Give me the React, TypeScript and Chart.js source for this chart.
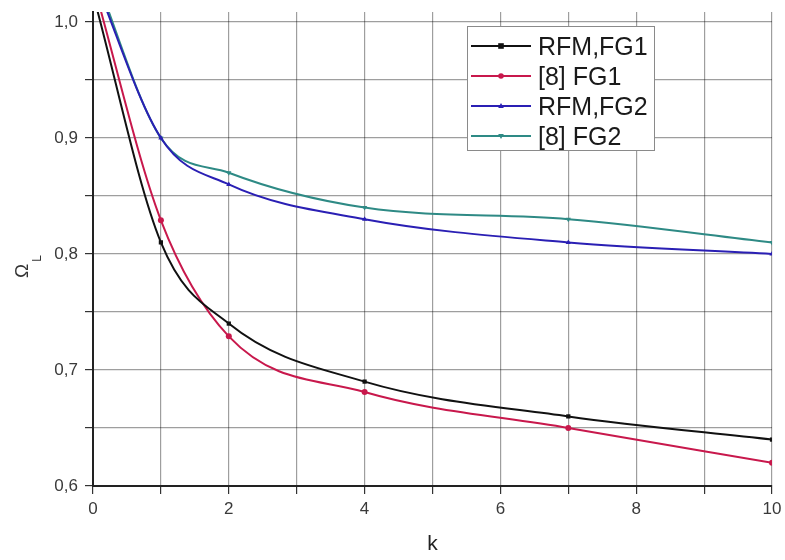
import React, { useEffect, useRef } from "react";
import { Chart, registerables } from "chart.js";

Chart.register(...registerables);

const kValues = [0, 1, 2, 4, 7, 10];
const rfmFG1 = [1.024, 0.81, 0.74, 0.69, 0.66, 0.64];
const ref8FG1 = [1.034, 0.829, 0.729, 0.681, 0.65, 0.62];
const rfmFG2 = [1.04, 0.9, 0.86, 0.83, 0.81, 0.8];
const ref8FG2 = [1.045, 0.9, 0.87, 0.84, 0.83, 0.81];

const yTickValues = [0.6, 0.65, 0.7, 0.75, 0.8, 0.85, 0.9, 0.95, 1.0];
const yLabelValues = [0.6, 0.7, 0.8, 0.9, 1.0];

const seriesNames = ["RFM,FG1", "[8] FG1", "RFM,FG2", "[8] FG2"];
const seriesColors = ["#111111", "#c8184c", "#2a1fb4", "#2e8a85"];
const seriesMarkers = ["rect", "circle", "triangle", "triangle"];
const seriesRotation = [0, 0, 0, 180];

const FONT = "'Liberation Sans', Arial, sans-serif";

function drawMarker(ctx: CanvasRenderingContext2D, style: string, rot: number, x: number, y: number, r: number) {
  ctx.beginPath();
  if (style === "rect") {
    ctx.rect(x - r, y - r, 2 * r, 2 * r);
  } else if (style === "circle") {
    ctx.arc(x, y, r, 0, Math.PI * 2);
  } else {
    const s = rot === 180 ? -1 : 1;
    ctx.moveTo(x, y - s * r * 1.1);
    ctx.lineTo(x + r, y + s * r * 0.7);
    ctx.lineTo(x - r, y + s * r * 0.7);
    ctx.closePath();
  }
  ctx.fill();
}

const extrasPlugin = {
  id: "extras",
  afterDraw(chart: any) {
    const ctx: CanvasRenderingContext2D = chart.ctx;
    ctx.save();
    const bx = 467, by = 26, bw = 187, bh = 124;
    ctx.fillStyle = "#ffffff";
    ctx.fillRect(bx, by, bw, bh);
    ctx.strokeStyle = "#8a8a8a";
    ctx.lineWidth = 1;
    ctx.strokeRect(bx + 0.5, by + 0.5, bw, bh);
    ctx.font = `25px ${FONT}`;
    ctx.textBaseline = "middle";
    ctx.textAlign = "left";
    for (let i = 0; i < seriesNames.length; i++) {
      const cy = 46 + i * 30;
      ctx.strokeStyle = seriesColors[i];
      ctx.lineWidth = 2;
      ctx.beginPath();
      ctx.moveTo(471, cy);
      ctx.lineTo(531, cy);
      ctx.stroke();
      ctx.fillStyle = seriesColors[i];
      drawMarker(ctx, seriesMarkers[i], seriesRotation[i], 501, cy, 2.8);
      ctx.fillStyle = "#1a1a1a";
      ctx.fillText(seriesNames[i], 538, cy + 2);
    }
    ctx.restore();

    ctx.save();
    ctx.translate(28, 278);
    ctx.rotate(-Math.PI / 2);
    ctx.fillStyle = "#333333";
    ctx.textAlign = "left";
    ctx.textBaseline = "alphabetic";
    ctx.font = `19px ${FONT}`;
    ctx.fillText("Ω", 0, 0);
    const w = ctx.measureText("Ω").width;
    ctx.font = `12px ${FONT}`;
    ctx.fillText("L", w + 2, 13);
    ctx.restore();
  },
};

export default function App() {
  const canvasRef = useRef<HTMLCanvasElement | null>(null);

  useEffect(() => {
    if (!canvasRef.current) return;
    const seriesData = [rfmFG1, ref8FG1, rfmFG2, ref8FG2];
    const datasets = seriesData.map((vals, i) => ({
      label: seriesNames[i],
      data: kValues.map((k, j) => ({ x: k, y: vals[j] })),
      borderColor: seriesColors[i],
      backgroundColor: seriesColors[i],
      borderWidth: 2,
      pointStyle: seriesMarkers[i] as any,
      rotation: seriesRotation[i],
      pointRadius: kValues.map((k) => (k === 0 ? 0 : 3)),
      pointBorderWidth: 0,
      cubicInterpolationMode: "monotone" as const,
      fill: false,
    }));

    const chart = new Chart(canvasRef.current, {
      type: "line",
      data: { datasets },
      plugins: [extrasPlugin],
      options: {
        animation: false,
        responsive: true,
        maintainAspectRatio: false,
        layout: { padding: { left: 0, right: 13, top: 12, bottom: 0 } },
        plugins: {
          legend: { display: false },
          tooltip: { enabled: false },
        },
        scales: {
          x: {
            type: "linear",
            min: 0,
            max: 10,
            afterFit: (scale: any) => {
              scale.height = 74;
              scale.paddingLeft = 0;
              scale.paddingRight = 0;
            },
            ticks: {
              stepSize: 1,
              autoSkip: false,
              maxRotation: 0,
              padding: 5,
              color: "#3a3a3a",
              font: { family: FONT, size: 17 },
              callback: (v: any) => {
                const n = Math.round(Number(v));
                return n % 2 === 0 ? String(n) : "";
              },
            },
            grid: {
              color: "rgba(0,0,0,0.38)",
              lineWidth: 1.2,
              tickLength: 8,
              tickColor: "#333333",
            },
            border: { display: true, color: "#222222", width: 2 },
            title: {
              display: true,
              text: "k",
              color: "#222222",
              font: { family: FONT, size: 21 },
              padding: { top: 0, bottom: 3 },
            },
          },
          y: {
            type: "linear",
            min: 0.6,
            max: 1.0086,
            afterFit: (scale: any) => {
              scale.width = 93;
              scale.paddingTop = 0;
              scale.paddingBottom = 0;
            },
            afterBuildTicks: (scale: any) => {
              scale.ticks = yTickValues.map((v) => ({ value: v }));
            },
            ticks: {
              autoSkip: false,
              padding: 7,
              color: "#3a3a3a",
              font: { family: FONT, size: 17 },
              callback: (v: any) => {
                const val = Number(v);
                const isMajor = yLabelValues.some((m) => Math.abs(m - val) < 1e-6);
                return isMajor ? val.toFixed(1).replace(".", ",") : "";
              },
            },
            grid: {
              color: "rgba(0,0,0,0.38)",
              lineWidth: 1.2,
              tickLength: 8,
              tickColor: "#333333",
            },
            border: { display: true, color: "#222222", width: 2 },
          },
        },
      },
    });
    return () => chart.destroy();
  }, []);

  return (
    <div style={{ position: "fixed", left: 0, top: 0, width: 785, height: 560, background: "#ffffff" }}>
      <canvas ref={canvasRef} />
    </div>
  );
}
